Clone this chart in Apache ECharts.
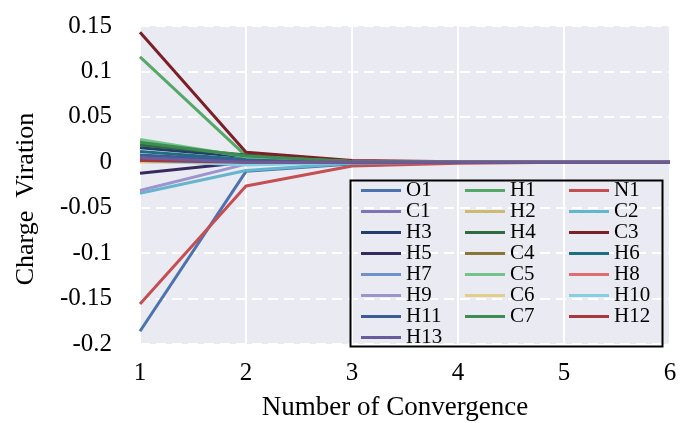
<!DOCTYPE html>
<html>
<head>
<meta charset="utf-8">
<script src="https://cdn.jsdelivr.net/npm/echarts@6/dist/echarts.min.js"></script>
<style>
html, body { margin: 0; padding: 0; background: #fff; }
#main { width: 681px; height: 423px; }
</style>
</head>
<body>
<div id="main"></div>
<script>
// 迭代次数
var steps = ['1', '2', '3', '4', '5', '6'];

// 各原子电荷变化
var names = ['O1', 'H1', 'N1', 'C1', 'H2', 'C2', 'H3', 'H4', 'C3', 'H5', 'C4',
             'H6', 'H7', 'C5', 'H8', 'H9', 'C6', 'H10', 'H11', 'C7', 'H12', 'H13'];

var O1  = [-0.186, -0.010, -0.002, 0, 0, 0];
var H1  = [0.116, 0.007, 0.001, 0, 0, 0];
var N1  = [-0.156, -0.026, -0.004, -0.001, 0, 0];
var C1  = [0.007, 0.001, 0, 0, 0, 0];
var H2  = [0.004, 0.002, 0, 0, 0, 0];
var C2  = [-0.034, -0.009, -0.001, 0, 0, 0];
var H3  = [0.016, 0.006, 0.001, 0, 0, 0];
var H4  = [0.019, 0.008, 0.001, 0, 0, 0];
var C3  = [0.143, 0.011, 0.002, 0.0005, 0, 0];
var H5  = [-0.012, 0, 0, 0, 0, 0];
var C4  = [0.003, 0.002, 0, 0, 0, 0];
var H6  = [0.012, 0.003, 0, 0, 0, 0];
var H7  = [0.006, 0.001, 0, 0, 0, 0];
var C5  = [0.025, 0.006, 0.001, 0, 0, 0];
var H8  = [0.001, 0, 0, 0, 0, 0];
var H9  = [-0.031, -0.002, 0, 0, 0, 0];
var C6  = [0, 0, 0, 0, 0, 0];
var H10 = [0.002, -0.003, 0, 0, 0, 0];
var H11 = [0.008, 0.002, 0, 0, 0, 0];
var C7  = [0.022, 0.007, 0.001, 0, 0, 0];
var H12 = [0.002, 0, 0, 0, 0, 0];
var H13 = [0.005, 0, 0, 0, 0, 0];

var values = [O1, H1, N1, C1, H2, C2, H3, H4, C3, H5, C4, H6, H7, C5, H8, H9, C6, H10, H11, C7, H12, H13];

var colors = ['#4c72b0', '#55a868', '#c44e52', '#8172b2', '#ccb974', '#64b5cd',
              '#243d6b', '#2f6b3f', '#7b1f28', '#372a5e', '#8a7636', '#1f6e80',
              '#6f92cf', '#72c48a', '#dd6d71', '#9d93cd', '#dfcf8b', '#86cfe0',
              '#3b5c96', '#3e8c52', '#a8373c', '#6a5b9c'];

var font = 'Liberation Serif';

var series = [];
for (var i = 0; i < names.length; i++) {
    series.push({
        name: names[i],
        type: 'line',
        data: values[i],
        symbol: 'none',
        color: colors[i],
        lineStyle: { width: 3, color: colors[i] }
    });
}

var myChart = echarts.init(document.getElementById('main'));

var option = {
    backgroundColor: '#ffffff',
    animation: false,
    grid: {
        left: 140,
        right: 11,
        top: 26,
        bottom: 79,
        outerBoundsMode: 'none',
        show: true,
        backgroundColor: '#eaeaf2',
        borderWidth: 0
    },
    xAxis: {
        type: 'category',
        data: steps,
        boundaryGap: false,
        name: 'Number of Convergence',
        nameLocation: 'middle',
        nameGap: 50,
        nameTextStyle: { fontFamily: font, fontSize: 27, color: '#000', padding: [0, 20, 0, 0] },
        axisLine: { show: false },
        axisTick: { show: false },
        axisLabel: { fontFamily: font, fontSize: 25, color: '#000', margin: 17 },
        splitLine: { show: true, lineStyle: { color: '#ffffff', width: 2 } }
    },
    yAxis: {
        type: 'value',
        min: -0.2,
        max: 0.15,
        interval: 0.05,
        name: 'Charge  Viration',
        nameLocation: 'middle',
        nameGap: 101,
        nameTextStyle: { fontFamily: font, fontSize: 26, color: '#000', padding: [0, 28, 0, 0] },
        axisLine: { show: false },
        axisTick: { show: false },
        axisLabel: {
            fontFamily: font, fontSize: 25, color: '#000', margin: 28,
            formatter: function (v) { return String(parseFloat(v.toFixed(2))); }
        },
        splitLine: { show: true, lineStyle: { color: '#ffffff', width: 2, type: [10, 6] } }
    },
    legend: {
        data: names,
        left: 361,
        top: 180,
        width: 320,
        padding: 0,
        itemGap: 0,
        itemWidth: 40,
        itemHeight: 20,
        icon: 'path://M0,0 L40,0 L40,3 L0,3 Z',
        textStyle: { fontFamily: font, fontSize: 21, color: '#000', width: 59, lineHeight: 20.5 }
    },
    graphic: [{
        type: 'rect',
        left: 348,
        top: 178,
        shape: { width: 312, height: 166 },
        style: { fill: 'none', stroke: '#000', lineWidth: 2 },
        z: 100
    }],
    series: series
};

myChart.setOption(option);
</script>
</body>
</html>
